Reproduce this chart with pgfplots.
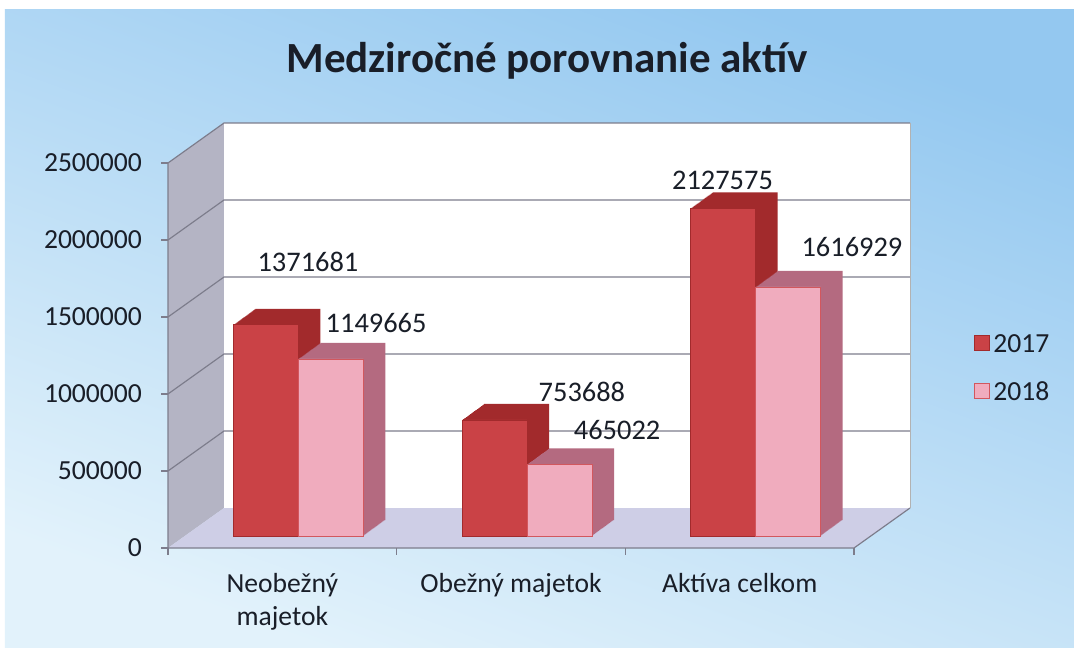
\documentclass[border=0pt]{standalone}
\usepackage{pgfplots}
\pgfplotsset{compat=1.18}
\usepackage{pgfplotstable}
\usepackage{fontspec}
\setmainfont{Carlito}
\pgfdeclarelayer{bg}
\pgfsetlayers{bg,main}
\definecolor{redfront}{RGB}{202,66,70}
\definecolor{reddepth}{RGB}{162,42,44}
\definecolor{pinkfront}{RGB}{240,172,190}
\definecolor{pinkdepth}{RGB}{180,106,128}
\definecolor{bgtop}{RGB}{148,200,240}
\definecolor{bgbottom}{RGB}{226,242,251}
\definecolor{sidewall}{RGB}{180,180,196}
\definecolor{floorc}{RGB}{206,206,230}
\definecolor{gridc}{RGB}{125,125,140}
\definecolor{txt}{RGB}{25,30,40}
\newcommand\tfont{\fontsize{13.8}{16.5}\selectfont}
\newcommand\vfont{\fontsize{14.2}{17}\selectfont}

\pgfplotstableread{
x   y2017   y2018
0.5 1371681 1149665
1.5 753688  465022
2.5 2127575 1616929
}\assets

\begin{document}
\begin{tikzpicture}[x=1pt,y=1pt]
\begin{axis}[
  scale only axis, width=343pt, height=192.5pt,
  xmin=0, xmax=3, ymin=0, ymax=2500000,
  clip=false,
  axis line style={draw=none},
  tick style={draw=none},
  ytick=\empty,
  xtick={0.5,1.5,2.5},
  xticklabels={{Neobežný\\majetok},{Obežný majetok},{Aktíva celkom}},
  xticklabel style={font=\tfont, align=center, text=txt, yshift=-9pt},
  legend style={at={(axis description cs:1.165,0.465)}, anchor=west, draw=none, fill=none,
    font=\tfont, text=txt, row sep=9pt},
  legsq/.style={legend image code/.code={\draw[##1] (0pt,-8.75pt) rectangle (7.5pt,-1.25pt);}},
]
% 2017 depth
\pgfplotsinvokeforeach{22,21,...,1}{
  \addplot[ybar, bar width=32.5pt, bar shift=-16.25pt, fill=reddepth, draw=none, forget plot,
    xshift={8pt+#1*0.5pt}, yshift={6pt+#1*0.3636pt}] table[x=x,y=y2017]{\assets};
}
\addplot[ybar, bar width=32.5pt, bar shift=-16.25pt, fill=redfront, draw=reddepth, line width=0.4pt,
  xshift=8pt, yshift=6pt, legsq] table[x=x,y=y2017]{\assets};
\addlegendentry{2017}
% 2018 depth
\pgfplotsinvokeforeach{22,21,...,1}{
  \addplot[ybar, bar width=32.5pt, bar shift=16.25pt, fill=pinkdepth, draw=none, forget plot,
    xshift={8pt+#1*0.5pt}, yshift={6pt+#1*0.3636pt}] table[x=x,y=y2018]{\assets};
}
\addplot[ybar, bar width=32.5pt, bar shift=16.25pt, fill=pinkfront, draw=redfront!80!pinkfront, line width=0.4pt,
  xshift=8pt, yshift=6pt, legsq] table[x=x,y=y2018]{\assets};
\addlegendentry{2018}
% y tick labels
\node[font=\tfont, text=txt, anchor=east, xshift=-9.5pt] at (axis cs:0,0) {0};
\node[font=\tfont, text=txt, anchor=east, xshift=-9.5pt] at (axis cs:0,500000) {500000};
\node[font=\tfont, text=txt, anchor=east, xshift=-9.5pt] at (axis cs:0,1000000) {1000000};
\node[font=\tfont, text=txt, anchor=east, xshift=-9.5pt] at (axis cs:0,1500000) {1500000};
\node[font=\tfont, text=txt, anchor=east, xshift=-9.5pt] at (axis cs:0,2000000) {2000000};
\node[font=\tfont, text=txt, anchor=east, xshift=-9.5pt] at (axis cs:0,2500000) {2500000};
% value labels
\node[font=\vfont, text=txt, anchor=base] at (axis cs:0.612,1798700) {1371681};
\node[font=\vfont, text=txt, anchor=base] at (axis cs:0.910,1402600) {1149665};
\node[font=\vfont, text=txt, anchor=base] at (axis cs:1.810,954500) {753688};
\node[font=\vfont, text=txt, anchor=base] at (axis cs:1.964,707800) {465022};
\node[font=\vfont, text=txt, anchor=base] at (axis cs:2.425,2324700) {2127575};
\node[font=\vfont, text=txt, anchor=base] at (axis cs:2.991,1896100) {1616929};
\coordinate (O) at (axis cs:0,0);
\end{axis}
\begin{pgfonlayer}{bg}
\begin{scope}[shift={(O)}]
\fill[white] (-84,-49.5) rectangle (453,274);
\shade[top color=bgtop, bottom color=bgbottom, shading angle=-20] (-81.5,-49.5) rectangle (453,269);
\fill[sidewall] (0,0) -- (28,20) -- (28,212.5) -- (0,192.5) -- cycle;
\fill[floorc] (0,0) -- (343,0) -- (371,20) -- (28,20) -- cycle;
\fill[white] (28,20) rectangle (371,212.5);
\foreach \k in {1,...,5} {
  \draw[gridc, line width=0.6pt] (0,\k*38.5) -- (28,20+\k*38.5) -- (371,20+\k*38.5);
}
\draw[gray!60, line width=0.5pt] (371,20) -- (371,212.5);
\draw[gridc, line width=0.6pt] (0,192.5) -- (0,0) -- (343,0) -- (371,20);
\foreach \k in {0,...,5} \draw[gridc, line width=0.6pt] (-3.5,\k*38.5) -- (0,\k*38.5);
\foreach \k in {0,...,3} \draw[gridc, line width=0.6pt] (\k*114.333,0) -- (\k*114.333,-3.5);
\end{scope}
\end{pgfonlayer}
\begin{scope}[shift={(O)}]
\node[anchor=base, font=\fontsize{21.5}{26}\selectfont\bfseries, text=txt] at (189.5,237.5) {Medziročné porovnanie aktív};
\pgfresetboundingbox
\path[use as bounding box] (-84,-49.5) rectangle (453,274);
\end{scope}
\end{tikzpicture}
\end{document}
